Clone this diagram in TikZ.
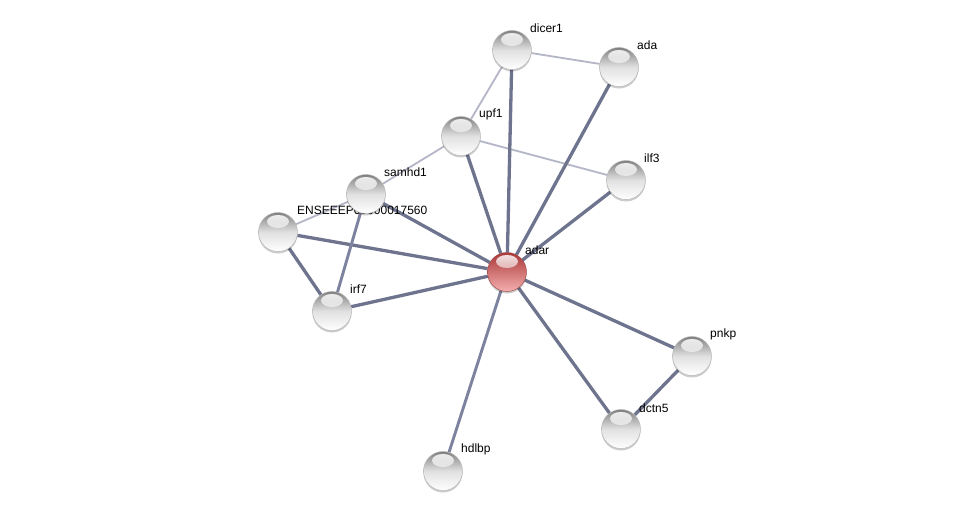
\documentclass[tikz,border=0pt]{standalone}
\usepackage{fontspec}
\setmainfont{Liberation Sans}
\usetikzlibrary{fadings,shadows}
\pgfdeclarelayer{bglayer}
\pgfdeclarelayer{edgelayer}
\pgfdeclarelayer{labellayer}
\pgfsetlayers{bglayer,edgelayer,labellayer,main}
\tikzset{
  ballnode/.style={circle, minimum size=39pt, inner sep=0pt, draw=gray!60, line width=0.4pt,
    top color=black!50, bottom color=white, middle color=black!12,
    drop shadow={shadow xshift=0pt, shadow yshift=-2pt, opacity=0.2, fill=black},
    path picture={\fill[white, path fading=south, opacity=0.9]
      ([yshift=-9pt]path picture bounding box.north) ellipse (11pt and 6.5pt);}},
  redball/.style={ballnode, draw={rgb,255:red,150;green,60;blue,60},
    top color={rgb,255:red,170;green,55;blue,55}, middle color={rgb,255:red,210;green,95;blue,95},
    bottom color={rgb,255:red,245;green,175;blue,175}},
  lbl/.style={anchor=west, inner sep=0pt, font=\fontsize{12}{14}\selectfont, text=black},
  darkedge/.style={line width=3.3pt, color={rgb,255:red,110;green,115;blue,142}},
  midedge/.style={line width=2.9pt, color={rgb,255:red,125;green,131;blue,158}},
  lightedge/.style={line width=1.8pt, color={rgb,255:red,180;green,182;blue,200}}
}
\begin{document}
\begin{tikzpicture}[x=1pt,y=-1pt]
\begin{pgfonlayer}{bglayer}
\fill[white] (0,0) rectangle (975,516);
\end{pgfonlayer}
\useasboundingbox (0,0) rectangle (975,516);
% nodes
\node[ballnode] (dicer1) at (512,50) {};
\node[ballnode] (ada) at (619,67) {};
\node[ballnode] (upf1) at (461,136) {};
\node[ballnode] (ilf3) at (626,180) {};
\node[ballnode] (samhd1) at (366,194) {};
\node[ballnode] (ense) at (278,232) {};
\node[redball] (adar) at (507,272) {};
\node[ballnode] (irf7) at (332,311) {};
\node[ballnode] (pnkp) at (692,356) {};
\node[ballnode] (dctn5) at (621,429) {};
\node[ballnode] (hdlbp) at (443,471) {};
% edges
\begin{pgfonlayer}{edgelayer}
\draw[lightedge] (dicer1) -- (ada);
\draw[lightedge] (dicer1) -- (upf1);
\draw[lightedge] (upf1) -- (ilf3);
\draw[lightedge] (upf1) -- (samhd1);
\draw[lightedge] (samhd1) -- (ense);
\draw[darkedge] (dicer1) -- (adar);
\draw[darkedge] (ada) -- (adar);
\draw[darkedge] (upf1) -- (adar);
\draw[darkedge] (ilf3) -- (adar);
\draw[darkedge] (samhd1) -- (adar);
\draw[darkedge] (ense) -- (adar);
\draw[darkedge] (ense) -- (irf7);
\draw[darkedge] (irf7) -- (adar);
\draw[darkedge] (adar) -- (pnkp);
\draw[darkedge] (adar) -- (dctn5);
\draw[darkedge] (pnkp) -- (dctn5);
\draw[midedge] (samhd1) -- (irf7);
\draw[midedge] (adar) -- (hdlbp);
\end{pgfonlayer}
% labels
\begin{pgfonlayer}{labellayer}
\node[lbl] (l-dicer1) at (530,28) {dicer1};
\node[lbl] (l-ada) at (637,45) {ada};
\node[lbl] (l-upf1) at (479,114) {upf1};
\node[lbl] (l-ilf3) at (644,158) {ilf3};
\node[lbl] (l-samhd1) at (384,172) {samhd1};
\node[lbl] (l-ense) at (297,210) {ENSEEEP00000017560};
\node[lbl] (l-adar) at (525,250) {adar};
\node[lbl] (l-irf7) at (350,289) {irf7};
\node[lbl] (l-pnkp) at (710,334) {pnkp};
\node[lbl] (l-dctn5) at (639,408) {dctn5};
\node[lbl] (l-hdlbp) at (461,449) {hdlbp};
\end{pgfonlayer}
\end{tikzpicture}
\end{document}
